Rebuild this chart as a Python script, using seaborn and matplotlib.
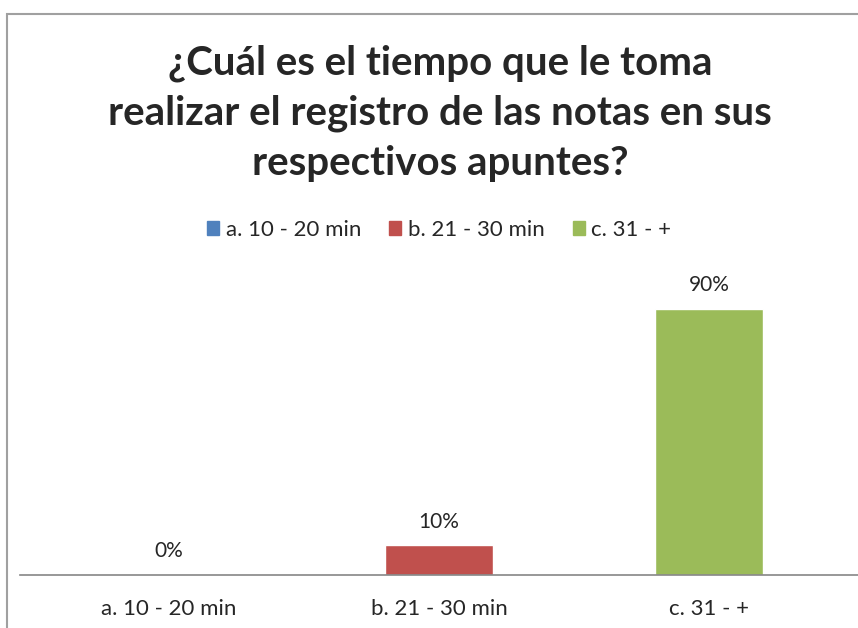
import pandas as pd
import matplotlib.pyplot as plt
import matplotlib.patches as mpatches
import seaborn as sns

categories = ["a. 10 - 20 min", "b. 21 - 30 min", "c. 31 - +"]
values = [0.0, 0.10, 0.90]
colors = ["#4F81BD", "#C0504D", "#9BBB59"]
title = "¿Cuál es el tiempo que le toma\nrealizar el registro de las notas en sus\nrespectivos apuntes?"

sns.set_style("white")
plt.rcParams["font.family"] = ["Lato", "DejaVu Sans"]

df = pd.DataFrame({"cat": categories, "val": values})

fig = plt.figure(figsize=(8.58, 6.28), dpi=100)
ax = fig.add_axes([20 / 858, (628 - 575) / 628, 838 / 858, 296 / 628])

sns.barplot(data=df, x="cat", y="val", hue="cat", palette=colors,
            width=0.4, dodge=False, saturation=1, legend=True, ax=ax)

ax.set_xlim(-0.552, 2.552)
ax.set_ylim(0, 1.0)
ax.set_xlabel("")
ax.set_ylabel("")
ax.set_yticks([])
ax.tick_params(axis="x", length=0, labelsize=16, pad=17)
for s in ["top", "right", "left"]:
    ax.spines[s].set_visible(False)
ax.spines["bottom"].set_color("#868686")
ax.spines["bottom"].set_linewidth(1.2)

for c in ax.containers:
    ax.bar_label(c, labels=[f"{v * 100:.0f}%" for v in c.datavalues],
                 padding=10, fontsize=15)

ax.legend_.remove()
handles = [mpatches.Patch(color=col, label=lab) for col, lab in zip(colors, categories)]
fig.legend(handles=handles, loc="center", bbox_to_anchor=(0.512, (628 - 230) / 628),
           ncol=3, frameon=False, fontsize=16, handlelength=0.55, handleheight=0.55,
           handletextpad=0.3, columnspacing=1.25)

fig.text(0.513, (628 - 113) / 628, title, ha="center", va="center",
         fontsize=29, fontweight="bold", linespacing=1.42)

border = mpatches.Rectangle((7 / 858, -0.1), 1.2, (628 - 14) / 628 + 0.1,
                            transform=fig.transFigure, fill=False,
                            edgecolor="#A0A0A0", linewidth=1.5)
fig.patches.append(border)

fig.savefig("out.png", dpi=100)
